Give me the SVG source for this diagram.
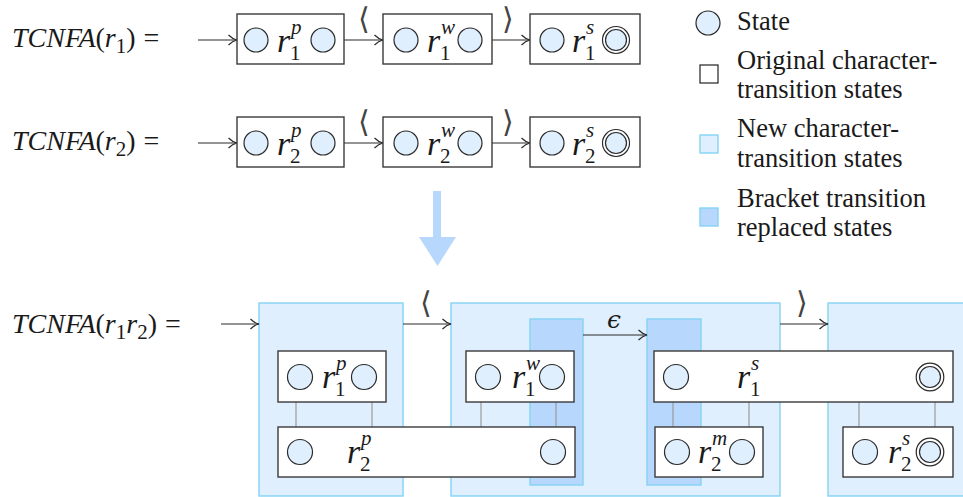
<svg xmlns="http://www.w3.org/2000/svg" width="963" height="497" viewBox="0 0 963 497">
<defs>
<style>
.bg{fill:#ffffff}
.txt{font-family:"Liberation Serif","DejaVu Serif",serif;fill:#1a1a1a}
.main{font-size:28px}
.it{font-style:italic}
.leg{font-size:26.5px}
.lab{font-family:"Liberation Serif","DejaVu Serif",serif;font-size:34px;font-style:italic;fill:#1a1a1a}
.ss{font-size:21px}
.up{font-style:normal}
.brk{font-family:"DejaVu Sans","DejaVu Serif",sans-serif;font-size:30px;font-weight:200;fill:#444}
.eps{font-family:"DejaVu Serif",serif;font-size:25px;font-style:italic;fill:#1a1a1a}
.box{fill:#ffffff;stroke:#3a3a3a;stroke-width:1.4}
.st{fill:#e0effd;stroke:#2a2a2a;stroke-width:1.2}
.dbl{fill:#ffffff;stroke:#2a2a2a;stroke-width:1.2}
.newc{fill:#e0effd;stroke:#84d3f6;stroke-width:1.4}
.brack{fill:#b8d7fc;stroke:#84d3f6;stroke-width:1.4}
.edge{fill:none;stroke:#2a2a2a;stroke-width:1.2}
.link{fill:none;stroke:#9a9a9a;stroke-width:1.2}
.bigarrow{fill:#b8d7fc}
</style>
<marker id="ah" viewBox="0 0 10 12" refX="9.5" refY="6" markerWidth="10" markerHeight="12" markerUnits="userSpaceOnUse" orient="auto">
<path d="M1,1 Q5,5 9.5,6 Q5,7 1,11" fill="none" stroke="#2a2a2a" stroke-width="1.2"/>
</marker>
</defs>
<rect class="bg" x="0" y="0" width="963" height="497"/>

<!-- Equation labels -->
<text class="txt main" x="12" y="47"><tspan class="it">TCNFA</tspan>(<tspan class="it">r</tspan><tspan class="ss" dy="6">1</tspan><tspan dy="-6">)</tspan><tspan dx="8">=</tspan></text>
<text class="txt main" x="12" y="150"><tspan class="it">TCNFA</tspan>(<tspan class="it">r</tspan><tspan class="ss" dy="6">2</tspan><tspan dy="-6">)</tspan><tspan dx="8">=</tspan></text>
<text class="txt main" x="12" y="333"><tspan class="it">TCNFA</tspan>(<tspan class="it">r</tspan><tspan class="ss" dy="6">1</tspan><tspan class="it" dy="-6">r</tspan><tspan class="ss" dy="6">2</tspan><tspan dy="-6">)</tspan><tspan dx="8">=</tspan></text>

<!-- Bottom big containers (new character-transition states) -->
<g id="container-a"><rect class="newc" x="259" y="303" width="144" height="193"/></g>
<g id="container-b"><rect class="newc" x="451" y="303" width="329" height="193"/></g>
<g id="container-c"><rect class="newc" x="828" y="303" width="140" height="193"/></g>
<g id="bracket-strip-1"><rect class="brack" x="530" y="319" width="53" height="166"/></g>
<g id="bracket-strip-2"><rect class="brack" x="647" y="319" width="54" height="166"/></g>

<!-- Connectors -->
<g id="connectors">
<line class="edge" x1="198" y1="40" x2="237" y2="40" marker-end="url(#ah)"/>
<line class="edge" x1="344" y1="40" x2="383" y2="40" marker-end="url(#ah)"/>
<line class="edge" x1="492" y1="40" x2="530" y2="40" marker-end="url(#ah)"/>
<line class="edge" x1="198" y1="143" x2="237" y2="143" marker-end="url(#ah)"/>
<line class="edge" x1="344" y1="143" x2="383" y2="143" marker-end="url(#ah)"/>
<line class="edge" x1="492" y1="143" x2="530" y2="143" marker-end="url(#ah)"/>
<line class="edge" x1="221" y1="324" x2="259" y2="324" marker-end="url(#ah)"/>
<line class="edge" x1="403" y1="324" x2="451" y2="324" marker-end="url(#ah)"/>
<line class="edge" x1="583" y1="335" x2="647" y2="335" marker-end="url(#ah)"/>
<line class="edge" x1="780" y1="324" x2="828" y2="324" marker-end="url(#ah)"/>
<line class="link" x1="296" y1="402" x2="296" y2="427"/>
<line class="link" x1="372" y1="402" x2="372" y2="427"/>
<line class="link" x1="481" y1="402" x2="481" y2="427"/>
<line class="link" x1="556" y1="402" x2="556" y2="427"/>
<line class="link" x1="673" y1="402" x2="673" y2="427"/>
<line class="link" x1="749" y1="402" x2="749" y2="427"/>
<line class="link" x1="859" y1="402" x2="859" y2="427"/>
<line class="link" x1="935" y1="402" x2="935" y2="427"/>
<text class="brk" x="358" y="29">⟨</text>
<text class="brk" x="502" y="29">⟩</text>
<text class="brk" x="358" y="132">⟨</text>
<text class="brk" x="502" y="132">⟩</text>
<text class="brk" x="420" y="313">⟨</text>
<text class="brk" x="796" y="313">⟩</text>
<text class="eps" x="607" y="328">ϵ</text>
</g>

<!-- Top row: TCNFA(r1) -->
<g id="r1p">
<rect class="box" x="237" y="14" width="107" height="50"/>
<circle class="st" cx="256" cy="40" r="12"/><circle class="st" cx="323" cy="40" r="12"/>
<text class="lab" x="277" y="52">r<tspan class="ss" x="291" y="34">p</tspan><tspan class="ss up" x="290" y="60">1</tspan></text>
</g>
<g id="r1w">
<rect class="box" x="383" y="14" width="109" height="50"/>
<circle class="st" cx="406" cy="40" r="12"/><circle class="st" cx="470" cy="40" r="12"/>
<text class="lab" x="427" y="52">r<tspan class="ss" x="441" y="34">w</tspan><tspan class="ss up" x="440" y="60">1</tspan></text>
</g>
<g id="r1s">
<rect class="box" x="530" y="14" width="110" height="50"/>
<circle class="st" cx="552" cy="40" r="12"/>
<circle class="dbl" cx="616" cy="40" r="13.5"/><circle class="st" cx="616" cy="40" r="10.5"/>
<text class="lab" x="572" y="52">r<tspan class="ss" x="586" y="34">s</tspan><tspan class="ss up" x="585" y="60">1</tspan></text>
</g>

<!-- Second row: TCNFA(r2) -->
<g id="r2p">
<rect class="box" x="237" y="117" width="107" height="50"/>
<circle class="st" cx="256" cy="143" r="12"/><circle class="st" cx="323" cy="143" r="12"/>
<text class="lab" x="277" y="155">r<tspan class="ss" x="291" y="137">p</tspan><tspan class="ss up" x="290" y="163">2</tspan></text>
</g>
<g id="r2w">
<rect class="box" x="383" y="117" width="109" height="50"/>
<circle class="st" cx="406" cy="143" r="12"/><circle class="st" cx="470" cy="143" r="12"/>
<text class="lab" x="427" y="155">r<tspan class="ss" x="441" y="137">w</tspan><tspan class="ss up" x="440" y="163">2</tspan></text>
</g>
<g id="r2s">
<rect class="box" x="530" y="117" width="110" height="50"/>
<circle class="st" cx="552" cy="143" r="12"/>
<circle class="dbl" cx="616" cy="143" r="13.5"/><circle class="st" cx="616" cy="143" r="10.5"/>
<text class="lab" x="572" y="155">r<tspan class="ss" x="586" y="137">s</tspan><tspan class="ss up" x="585" y="163">2</tspan></text>
</g>

<!-- Big down arrow -->
<g id="transform-arrow">
<path class="bigarrow" d="M433,191 L441,191 L441,237 L456,237 L437.5,266 L419,237 L433,237 Z"/>
</g>

<!-- Bottom: TCNFA(r1 r2) inner boxes -->
<g id="b-r1p">
<rect class="box" x="278" y="351" width="108" height="51"/>
<circle class="st" cx="300" cy="377" r="12.5"/><circle class="st" cx="364" cy="377" r="12.5"/>
<text class="lab" x="322" y="388">r<tspan class="ss" x="336" y="370">p</tspan><tspan class="ss up" x="335" y="396">1</tspan></text>
</g>
<g id="b-r2p">
<rect class="box" x="278" y="427" width="297" height="50"/>
<circle class="st" cx="300" cy="452" r="12.5"/><circle class="st" cx="553" cy="452" r="12.5"/>
<text class="lab" x="347" y="463">r<tspan class="ss" x="361" y="445">p</tspan><tspan class="ss up" x="360" y="471">2</tspan></text>
</g>
<g id="b-r1w">
<rect class="box" x="466" y="351" width="108" height="51"/>
<circle class="st" cx="488" cy="377" r="12.5"/><circle class="st" cx="552" cy="377" r="12.5"/>
<text class="lab" x="512" y="388">r<tspan class="ss" x="526" y="370">w</tspan><tspan class="ss up" x="525" y="396">1</tspan></text>
</g>
<g id="b-r1s">
<rect class="box" x="654" y="351" width="299" height="51"/>
<circle class="st" cx="676" cy="377" r="12.5"/>
<circle class="dbl" cx="930" cy="377" r="13.8"/><circle class="st" cx="930" cy="377" r="10.5"/>
<text class="lab" x="737" y="388">r<tspan class="ss" x="751" y="370">s</tspan><tspan class="ss up" x="750" y="396">1</tspan></text>
</g>
<g id="b-r2m">
<rect class="box" x="655" y="427" width="108" height="50"/>
<circle class="st" cx="677" cy="452" r="12.5"/><circle class="st" cx="742" cy="452" r="12.5"/>
<text class="lab" x="698" y="463">r<tspan class="ss" x="712" y="445">m</tspan><tspan class="ss up" x="711" y="471">2</tspan></text>
</g>
<g id="b-r2s">
<rect class="box" x="843" y="427" width="110" height="50"/>
<circle class="st" cx="865" cy="452" r="12.5"/>
<circle class="dbl" cx="930" cy="452" r="13.8"/><circle class="st" cx="930" cy="452" r="10.5"/>
<text class="lab" x="888" y="463">r<tspan class="ss" x="902" y="445">s</tspan><tspan class="ss up" x="901" y="471">2</tspan></text>
</g>

<!-- Legend -->
<g id="legend">
<circle class="st" cx="708" cy="23" r="12"/>
<text class="txt leg" x="737" y="30">State</text>
<rect fill="#ffffff" stroke="#222" stroke-width="1.2" x="700" y="65" width="18" height="18"/>
<text class="txt leg" x="737" y="69">Original character-</text>
<text class="txt leg" x="737" y="98">transition states</text>
<rect class="newc" x="700" y="135" width="18" height="18"/>
<text class="txt leg" x="737" y="137">New character-</text>
<text class="txt leg" x="737" y="167">transition states</text>
<rect class="brack" x="700" y="208" width="18" height="18"/>
<text class="txt leg" x="737" y="207">Bracket transition</text>
<text class="txt leg" x="737" y="236">replaced states</text>
</g>
</svg>
